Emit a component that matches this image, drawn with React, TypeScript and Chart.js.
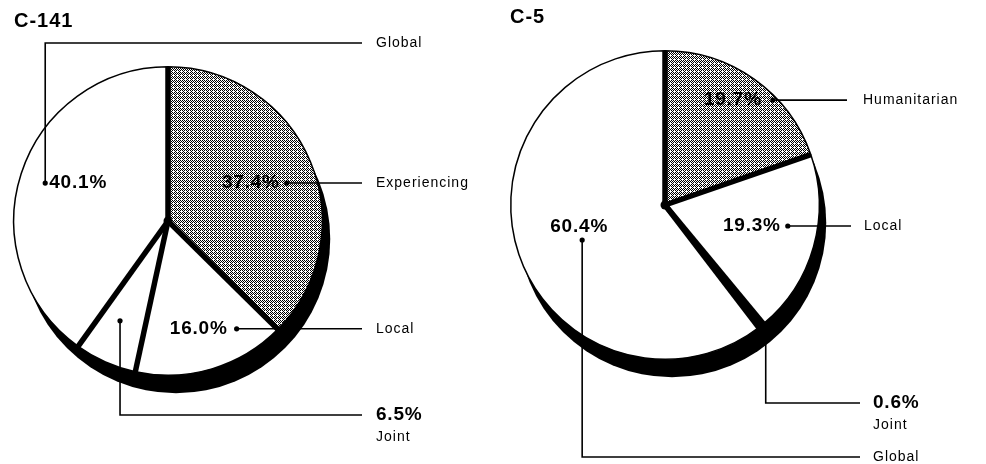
import React, { useEffect, useRef } from "react";
import { Chart, registerables } from "chart.js";

Chart.register(...registerables);

// ---- Data ----
const c141Title = "C-141";
const c141Categories = ["Experiencing", "Local", "Joint", "Global"];
const c141Values = [37.4, 16.0, 6.5, 40.1];

const c5Title = "C-5";
const c5Categories = ["Humanitarian", "Local", "Joint", "Global"];
const c5Values = [19.7, 19.3, 0.6, 60.4];

// ---- Layout / style (not data) ----
type Callout = {
  rel: [number, number]; // dot position relative to pie centre, in radii
  dot: boolean;
  pct: "left" | "right" | "above" | "label"; // where the percentage text goes
  gap?: number;
  route: "h" | "up" | "down";
  turnY?: number; // y of the horizontal run for up/down routes
  lineEnd: number; // x where leader ends
  labelX: number;
};

const c141Callouts: Callout[] = [
  { rel: [0.77, -0.246], dot: true, pct: "right", gap: 7, route: "h", lineEnd: 362, labelX: 376 },
  { rel: [0.445, 0.699], dot: true, pct: "right", gap: 9, route: "h", lineEnd: 362, labelX: 376 },
  { rel: [-0.311, 0.647], dot: true, pct: "label", route: "down", turnY: 415, lineEnd: 362, labelX: 376 },
  { rel: [-0.796, -0.246], dot: true, pct: "left", route: "up", turnY: 43, lineEnd: 362, labelX: 376 },
];

const c5Callouts: Callout[] = [
  { rel: [0.699, -0.68], dot: true, pct: "right", gap: 11, route: "h", lineEnd: 354, labelX: 370 },
  { rel: [0.796, 0.136], dot: true, pct: "right", gap: 7, route: "h", lineEnd: 358, labelX: 371 },
  { rel: [0.653, 0.8], dot: false, pct: "label", route: "down", turnY: 403, lineEnd: 367, labelX: 380 },
  { rel: [-0.537, 0.227], dot: true, pct: "above", route: "down", turnY: 457, lineEnd: 367, labelX: 380 },
];

const FONT = '"Liberation Sans", Arial, Helvetica, sans-serif';

function makePattern(ctx: CanvasRenderingContext2D): CanvasPattern | string {
  const c = document.createElement("canvas");
  c.width = 4;
  c.height = 4;
  const g = c.getContext("2d");
  if (!g) return "#aaa";
  g.fillStyle = "#fff";
  g.fillRect(0, 0, 4, 4);
  g.fillStyle = "#000";
  const px = [
    [0, 0], [2, 0], [1, 1], [3, 1], [0, 2], [2, 2], [3, 3],
  ];
  px.forEach(([x, y]) => g.fillRect(x, y, 1, 1));
  return ctx.createPattern(c, "repeat") || "#aaa";
}

function drawText(
  ctx: CanvasRenderingContext2D,
  text: string,
  x: number,
  y: number,
  font: string,
  align: CanvasTextAlign,
  spacing: string
) {
  ctx.save();
  ctx.font = font;
  (ctx as any).letterSpacing = spacing;
  ctx.textAlign = align;
  ctx.textBaseline = "middle";
  ctx.fillStyle = "#000";
  ctx.fillText(text, x, y);
  ctx.restore();
}

const piePlugin = {
  id: "pieDeco",
  beforeDatasetsDraw(chart: any, _args: any, opts: any) {
    const meta = chart.getDatasetMeta(0);
    const a0 = meta.data[0];
    if (!a0) return;
    const { x, y, outerRadius } = a0.getProps(["x", "y", "outerRadius"], true);
    const ctx: CanvasRenderingContext2D = chart.ctx;
    ctx.save();
    ctx.fillStyle = "#000";
    ctx.beginPath();
    ctx.arc(x + opts.shadow[0], y + opts.shadow[1], outerRadius, 0, Math.PI * 2);
    ctx.fill();
    ctx.restore();
  },
  afterDatasetsDraw(chart: any, _args: any, opts: any) {
    const ctx: CanvasRenderingContext2D = chart.ctx;
    const meta = chart.getDatasetMeta(0);
    const labels: string[] = chart.data.labels;
    const values: number[] = chart.data.datasets[0].data;
    const a0 = meta.data[0];
    const { x: cx, y: cy, outerRadius: r } = a0.getProps(["x", "y", "outerRadius"], true);

    // thick radial dividers
    ctx.save();
    ctx.strokeStyle = "#000";
    ctx.lineWidth = 5.5;
    ctx.lineCap = "butt";
    meta.data.forEach((arc: any) => {
      const { startAngle } = arc.getProps(["startAngle"], true);
      ctx.beginPath();
      ctx.moveTo(cx, cy);
      ctx.lineTo(cx + Math.cos(startAngle) * r, cy + Math.sin(startAngle) * r);
      ctx.stroke();
    });
    ctx.fillStyle = "#000";
    ctx.beginPath();
    ctx.arc(cx, cy, 4.5, 0, Math.PI * 2);
    ctx.fill();
    ctx.restore();

    // title
    drawText(ctx, opts.title, opts.titlePos[0], opts.titlePos[1], `bold 20px ${FONT}`, "left", "1px");

    // callouts
    const callouts: Callout[] = opts.callouts;
    const pctFont = `bold 19px ${FONT}`;
    const lblFont = `14px ${FONT}`;
    callouts.forEach((co, i) => {
      const dx = cx + co.rel[0] * r;
      const dy = cy + co.rel[1] * r;
      const pctText = values[i].toFixed(1) + "%";
      ctx.save();
      ctx.strokeStyle = "#000";
      ctx.lineWidth = 1.6;
      ctx.beginPath();
      ctx.moveTo(dx, dy);
      let endY = dy;
      if (co.route === "h") {
        ctx.lineTo(co.lineEnd, dy);
      } else {
        endY = co.turnY as number;
        ctx.lineTo(dx, endY);
        ctx.lineTo(co.lineEnd, endY);
      }
      ctx.stroke();
      if (co.dot) {
        ctx.fillStyle = "#000";
        ctx.beginPath();
        ctx.arc(dx, dy, 2.6, 0, Math.PI * 2);
        ctx.fill();
      }
      ctx.restore();

      if (co.pct === "right") {
        drawText(ctx, pctText, dx - (co.gap || 7), dy, pctFont, "right", "0.8px");
      } else if (co.pct === "left") {
        drawText(ctx, pctText, dx + 4, dy, pctFont, "left", "0.8px");
      } else if (co.pct === "above") {
        drawText(ctx, pctText, dx - 3, dy - 13, pctFont, "center", "0.8px");
      }

      if (co.pct === "label") {
        drawText(ctx, pctText, co.labelX, endY, pctFont, "left", "0.8px");
        drawText(ctx, labels[i], co.labelX, endY + 22, lblFont, "left", "1px");
      } else {
        drawText(ctx, labels[i], co.labelX, endY, lblFont, "left", "1px");
      }
    });
  },
};

function PieChart(props: {
  title: string;
  titlePos: [number, number];
  labels: string[];
  values: number[];
  fills: ("pattern" | string)[];
  callouts: Callout[];
  padding: { left: number; right: number; top: number; bottom: number };
  shadow: [number, number];
}) {
  const ref = useRef<HTMLCanvasElement | null>(null);
  useEffect(() => {
    const canvas = ref.current;
    if (!canvas) return;
    const ctx = canvas.getContext("2d");
    if (!ctx) return;
    const pattern = makePattern(ctx);
    const bg = props.fills.map((f) => (f === "pattern" ? pattern : f));
    const chart = new Chart(canvas, {
      type: "pie",
      data: {
        labels: props.labels,
        datasets: [
          {
            data: props.values,
            backgroundColor: bg as any,
            borderColor: "#000",
            borderWidth: 1.5,
          },
        ],
      },
      options: {
        responsive: false,
        animation: false,
        events: [],
        layout: { padding: props.padding },
        plugins: {
          legend: { display: false },
          tooltip: { enabled: false },
          title: { display: false },
          pieDeco: {
            title: props.title,
            titlePos: props.titlePos,
            callouts: props.callouts,
            shadow: props.shadow,
          },
        } as any,
      },
      plugins: [piePlugin as any],
    });
    return () => chart.destroy();
  }, []);
  return <canvas ref={ref} width={493} height={464} style={{ display: "block" }} />;
}

export default function App() {
  return (
    <div
      style={{
        position: "absolute",
        left: 0,
        top: 0,
        width: 986,
        height: 464,
        background: "#fff",
        display: "flex",
      }}
    >
      <PieChart
        title={c141Title}
        titlePos={[14, 21]}
        labels={c141Categories}
        values={c141Values}
        fills={["pattern", "#fff", "#fff", "#fff"]}
        callouts={c141Callouts}
        padding={{ left: 13, right: 170, top: 66, bottom: 88 }}
        shadow={[8, 18]}
      />
      <PieChart
        title={c5Title}
        titlePos={[17, 17]}
        labels={c5Categories}
        values={c5Values}
        fills={["pattern", "#fff", "#000", "#fff"]}
        callouts={c5Callouts}
        padding={{ left: 17, right: 166, top: 50, bottom: 104 }}
        shadow={[7, 18]}
      />
    </div>
  );
}
